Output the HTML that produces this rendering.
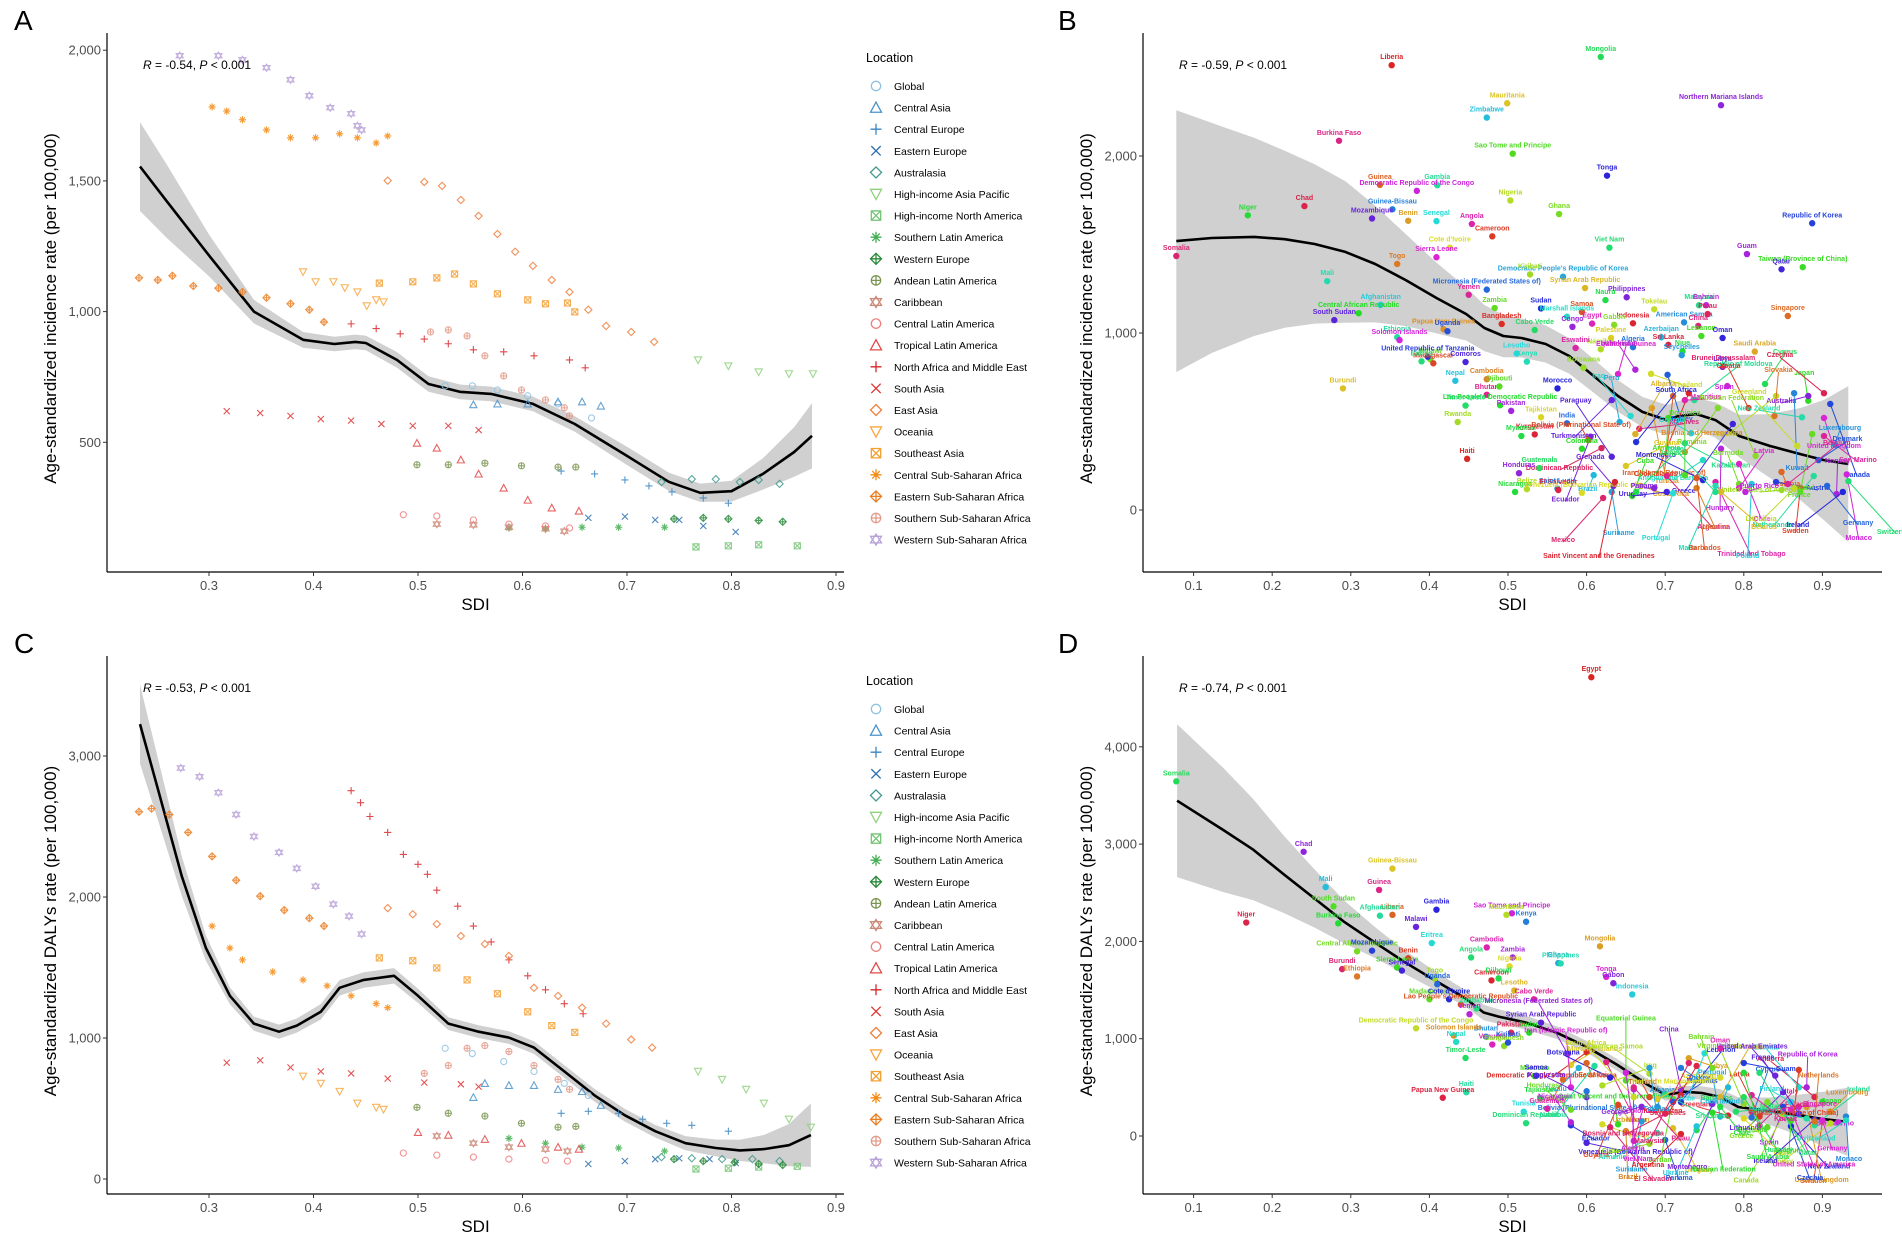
<!DOCTYPE html>
<html><head><meta charset="utf-8"><style>
html,body{margin:0;padding:0;background:#fff;}
svg{display:block;font-family:"Liberation Sans",Arial,sans-serif;}
</style></head><body>
<svg id="fig" width="1902" height="1255" viewBox="0 0 1902 1255" xmlns="http://www.w3.org/2000/svg"></svg>
<script>
// ---------- Region data (panels A & C) ----------
const regionNames = ["Global","Central Asia","Central Europe","Eastern Europe","Australasia","High-income Asia Pacific","High-income North America","Southern Latin America","Western Europe","Andean Latin America","Caribbean","Central Latin America","Tropical Latin America","North Africa and Middle East","South Asia","East Asia","Oceania","Southeast Asia","Central Sub-Saharan Africa","Eastern Sub-Saharan Africa","Southern Sub-Saharan Africa","Western Sub-Saharan Africa"];
const regionColors = ["#8fc1e3","#4b93c9","#3a86c2","#2a6fb0","#3f9a8c","#8fd17a","#74c476","#3fae4f","#2a8a3a","#7a9550","#cc8a78","#ef7f7f","#e24848","#d8282a","#e03434","#ef7d3a","#f8a640","#f5a032","#f58a12","#ec7e22","#e39a88","#b9a2d8"];
const regionShapes = ["circle","tri","plus","cross","diamond","dtri","sqx","ast","diaplus","cirplus","hex","circle","tri","plus","cross","diamond","dtri","sqx","ast","diaplus","cirplus","hex"];

const aSdi = [
 [0.526,0.552,0.576,0.605,0.634,0.666],
 [0.553,0.576,0.605,0.634,0.657,0.675],
 [0.637,0.669,0.698,0.721,0.743,0.773,0.797],
 [0.663,0.698,0.727,0.750,0.773,0.804],
 [0.733,0.762,0.785,0.808,0.826,0.846],
 [0.768,0.797,0.826,0.855,0.878],
 [0.766,0.797,0.826,0.863],
 [0.587,0.622,0.657,0.692,0.736],
 [0.745,0.773,0.797,0.826,0.849],
 [0.499,0.529,0.564,0.599,0.634,0.651],
 [0.518,0.553,0.587,0.622,0.640],
 [0.486,0.518,0.553,0.587,0.622,0.645],
 [0.499,0.518,0.541,0.558,0.582,0.605,0.628,0.654],
 [0.436,0.460,0.483,0.506,0.529,0.553,0.582,0.611,0.645,0.660],
 [0.317,0.349,0.378,0.407,0.436,0.465,0.495,0.529,0.558],
 [0.471,0.506,0.523,0.541,0.558,0.576,0.593,0.610,0.628,0.645,0.663,0.680,0.704,0.726],
 [0.390,0.402,0.419,0.430,0.442,0.451,0.460,0.467],
 [0.463,0.495,0.518,0.535,0.553,0.576,0.605,0.622,0.643,0.650],
 [0.303,0.317,0.332,0.355,0.378,0.402,0.425,0.442,0.460,0.471],
 [0.233,0.251,0.265,0.285,0.309,0.332,0.355,0.378,0.396,0.410],
 [0.512,0.529,0.547,0.564,0.582,0.599,0.622,0.640,0.645],
 [0.272,0.309,0.332,0.355,0.378,0.396,0.416,0.436,0.442,0.446]
];
const aVal = [
 [716,716,700,678,647,593],
 [644,647,647,655,655,639],
 [390,379,356,333,310,287,267],
 [211,216,203,203,180,157],
 [348,359,359,348,356,341],
 [815,792,769,762,762],
 [100,104,108,104],
 [172,169,175,175,175],
 [207,211,207,201,196],
 [414,414,420,410,405,405],
 [187,184,175,169,160],
 [223,218,203,187,180,172],
 [497,478,433,379,325,279,249,237],
 [953,935,915,895,877,854,846,831,815,785],
 [619,612,601,589,583,570,563,563,547],
 [1501,1496,1481,1427,1366,1297,1229,1175,1121,1075,1007,945,922,884],
 [1152,1114,1114,1091,1075,1022,1045,1037],
 [1109,1114,1129,1144,1106,1068,1045,1030,1033,999],
 [1783,1767,1734,1695,1665,1665,1680,1665,1645,1672],
 [1129,1121,1137,1098,1090,1075,1053,1030,1007,960],
 [922,930,907,831,754,700,662,632,601],
 [1979,1979,1963,1933,1887,1826,1780,1757,1711,1695]
];
const aFitSdi = [0.234,0.26,0.30,0.343,0.39,0.42,0.44,0.45,0.48,0.51,0.54,0.57,0.61,0.65,0.70,0.74,0.77,0.80,0.83,0.86,0.877];
const aFitVal = [1555,1420,1215,1000,892,876,884,880,815,723,693,685,647,570,448,349,307,313,379,463,525];
const aFitSe  = [170,140,80,45,30,28,28,28,30,30,28,28,28,30,35,35,35,40,60,95,125];

const cSdi = [
 [0.526,0.552,0.582,0.611,0.640,0.663],
 [0.553,0.564,0.587,0.611,0.634,0.657,0.675],
 [0.637,0.663,0.692,0.715,0.738,0.762,0.797],
 [0.663,0.698,0.727,0.750,0.779,0.804],
 [0.733,0.762,0.791,0.820,0.846],
 [0.768,0.791,0.814,0.831,0.855,0.876],
 [0.766,0.797,0.826,0.863],
 [0.587,0.622,0.657,0.692,0.736],
 [0.745,0.773,0.803,0.826,0.849],
 [0.499,0.529,0.564,0.599,0.634,0.651],
 [0.518,0.553,0.587,0.622,0.643],
 [0.486,0.518,0.553,0.587,0.622,0.643],
 [0.500,0.529,0.564,0.599,0.634,0.654],
 [0.436,0.445,0.454,0.471,0.486,0.500,0.509,0.518,0.538,0.553,0.570,0.587,0.605,0.622,0.640,0.658],
 [0.317,0.349,0.378,0.407,0.436,0.471,0.506,0.541,0.558],
 [0.471,0.495,0.518,0.541,0.564,0.587,0.611,0.634,0.657,0.680,0.704,0.724],
 [0.390,0.407,0.425,0.442,0.460,0.467],
 [0.463,0.495,0.518,0.547,0.576,0.605,0.628,0.650],
 [0.303,0.320,0.332,0.361,0.390,0.413,0.436,0.460,0.471],
 [0.233,0.245,0.262,0.280,0.303,0.326,0.349,0.372,0.396,0.410],
 [0.506,0.529,0.547,0.564,0.587,0.611,0.634,0.645],
 [0.273,0.291,0.309,0.326,0.343,0.367,0.384,0.402,0.419,0.434,0.446]
];
const cVal = [
 [927,890,833,763,678,593],
 [579,678,664,664,636,621,523],
 [466,480,466,424,395,381,339],
 [107,127,141,147,141,113],
 [155,147,141,141,127],
 [763,706,636,537,424,367],
 [71,76,85,90],
 [288,254,226,220,198],
 [141,127,119,107,99],
 [508,466,446,395,367,373],
 [305,254,226,212,198],
 [184,169,155,141,133,127],
 [331,311,282,254,226,212],
 [2754,2669,2571,2458,2302,2232,2161,2048,1935,1794,1681,1554,1441,1342,1243,1172],
 [825,842,791,763,749,712,684,672,655],
 [1921,1878,1808,1723,1667,1582,1356,1299,1215,1102,989,932],
 [729,678,621,537,508,494],
 [1568,1548,1497,1412,1314,1186,1088,1040],
 [1794,1638,1554,1469,1412,1370,1299,1243,1215],
 [2605,2627,2585,2458,2288,2119,2006,1907,1850,1794],
 [749,805,927,946,904,805,706,636],
 [2915,2853,2740,2585,2429,2316,2203,2076,1949,1864,1737]
];
const cFitSdi = [0.234,0.251,0.274,0.297,0.320,0.343,0.367,0.384,0.407,0.425,0.448,0.477,0.500,0.529,0.558,0.587,0.611,0.640,0.669,0.698,0.727,0.756,0.785,0.808,0.831,0.855,0.876];
const cFitVal = [3226,2768,2147,1638,1299,1102,1045,1088,1186,1356,1412,1441,1299,1102,1045,1003,932,763,593,452,339,254,220,203,212,240,311];
const cFitSe  = [280,220,140,90,60,50,50,50,55,55,55,55,50,45,45,45,45,45,45,45,45,50,60,75,100,150,225];

// ---------- Country data (panel B) ----------
const bNames = ["Liberia","Mongolia","Northern Mariana Islands","Mauritania","Zimbabwe","Burkina Faso","Sao Tome and Principe","Tonga","Guinea","Gambia","Democratic Republic of the Congo","Nigeria","Guinea-Bissau","Chad","Niger","Mozambique","Benin","Senegal","Angola","Ghana","Republic of Korea","Cameroon","Viet Nam","Guam","Cote d'Ivoire","Democratic People's Republic of Korea","Somalia","Taiwan (Province of China)","Qatar","Togo","Mali","Sierra Leone","Kiribati","Micronesia (Federated States of)","Indonesia","Nauru","Philippines","Syrian Arab Republic","Afghanistan","Yemen","Zambia","Sudan","Samoa","Malaysia","Bahrain","Tokelau","American Samoa","Palau","Central African Republic","South Sudan","Papua New Guinea","Marshall Islands","Egypt","Gabon","Uganda","Bangladesh","Cabo Verde","Congo","Palestine","Azerbaijan","China","Lebanon","Oman","Singapore","Ethiopia","Solomon Islands","Namibia","Algeria","Sri Lanka","Niue","Libya","Saudi Arabia","Lesotho","Eswatini","Malawi","United Republic of Tanzania","Madagascar","Eritrea","Uzbekistan","Thailand","Seychelles","Brunei Darussalam","Japan","Comoros","Cambodia","Kenya","Equatorial Guinea","Botswana","Turkey","Cook Islands","Cyprus","Australia","Burundi","Nepal","Bhutan","Djibouti","Morocco","Iran (Islamic Republic of)","Republic of Moldova","Spain","Serbia","Kuwait","Czechia","Lao People's Democratic Republic","Turkmenistan","Tunisia","Iraq","Mauritius","Romania","Canada","Croatia","Timor-Leste","Pakistan","Tajikistan","Peru","Maldives","Armenia","Greece","Slovakia","New Zealand","United Kingdom","Rwanda","India","Kyrgyzstan","Myanmar","Ecuador","Albania","Georgia","San Marino","France","South Africa","Bolivia (Plurinational State of)","Kazakhstan","Hungary","Greenland","Luxembourg","Dominican Republic","Colombia","Paraguay","Bosnia and Herzegovina","Antigua and Barbuda","Chile","Russian Federation","Denmark","Haiti","Guatemala","Honduras","Guyana","Brazil","Argentina","Dominica","Montenegro","Estonia","Netherlands","Monaco","Belize","Saint Lucia","El Salvador","Nicaragua","Grenada","Costa Rica","Portugal","Trinidad and Tobago","Bermuda","Austria","Sweden","Switzerland","Norway","Venezuela (Bolivarian Republic of)","Suriname","Mexico","Cuba","Uruguay","Ukraine","Malta","Latvia","United States of America","Germany","Saint Vincent and the Grenadines","Jamaica","Panama","Belarus","Poland","Belgium","Iceland","Ireland","Barbados","Israel","Puerto Rico","Lithuania"];
const bSdi = [0.352,0.618,0.771,0.499,0.473,0.285,0.506,0.626,0.337,0.410,0.384,0.503,0.353,0.241,0.169,0.327,0.373,0.409,0.454,0.565,0.887,0.480,0.629,0.804,0.426,0.570,0.078,0.875,0.848,0.359,0.270,0.409,0.528,0.473,0.659,0.624,0.651,0.598,0.338,0.450,0.483,0.542,0.594,0.743,0.752,0.686,0.724,0.754,0.310,0.279,0.418,0.575,0.607,0.635,0.423,0.492,0.534,0.582,0.631,0.695,0.742,0.746,0.773,0.856,0.359,0.362,0.618,0.659,0.704,0.722,0.773,0.814,0.511,0.586,0.401,0.398,0.405,0.390,0.662,0.682,0.721,0.774,0.882,0.446,0.473,0.524,0.640,0.596,0.703,0.730,0.827,0.882,0.290,0.433,0.473,0.489,0.563,0.710,0.737,0.779,0.841,0.864,0.902,0.490,0.632,0.683,0.656,0.725,0.767,0.910,0.806,0.446,0.504,0.542,0.642,0.667,0.704,0.786,0.839,0.874,0.902,0.436,0.575,0.534,0.517,0.605,0.662,0.733,0.902,0.887,0.663,0.602,0.725,0.771,0.868,0.916,0.619,0.594,0.632,0.725,0.748,0.794,0.815,0.895,0.448,0.540,0.514,0.650,0.609,0.702,0.725,0.748,0.848,0.889,0.931,0.524,0.563,0.564,0.509,0.634,0.669,0.710,0.764,0.794,0.841,0.872,0.933,0.918,0.594,0.632,0.621,0.658,0.702,0.740,0.764,0.794,0.848,0.906,0.636,0.663,0.686,0.771,0.810,0.856,0.872,0.926,0.740,0.764,0.802,0.864];
const bVal = [2513,2560,2287,2298,2217,2086,2013,1889,1837,1835,1803,1749,1699,1717,1665,1647,1634,1632,1616,1672,1620,1546,1482,1446,1482,1318,1435,1372,1360,1390,1293,1428,1331,1245,1055,1186,1202,1254,1159,1216,1141,1139,1119,1157,1157,1134,1060,1107,1112,1073,1021,1092,1053,1046,1010,1051,1017,1035,972,976,1040,983,972,1096,976,960,908,920,933,897,809,895,884,915,852,866,829,840,793,769,875,814,617,836,739,838,768,804,764,660,712,644,687,730,651,698,687,644,621,700,644,660,660,592,621,576,531,621,576,599,576,590,560,524,497,459,520,486,531,524,520,497,490,427,418,414,429,434,418,429,384,395,377,346,362,368,350,346,301,328,282,260,305,282,289,237,208,249,197,192,197,169,215,192,201,118,120,113,102,136,136,95,158,147,158,124,163,90,97,102,68,79,102,124,136,124,113,136,158,102,124,102,147,147,102,102,181,102,102,124];
const bFitSdi = [0.078,0.123,0.177,0.216,0.254,0.293,0.331,0.370,0.409,0.447,0.470,0.494,0.517,0.548,0.578,0.609,0.640,0.671,0.702,0.717,0.740,0.764,0.794,0.833,0.872,0.902,0.933];
const bFitVal = [1519,1537,1543,1530,1503,1458,1390,1299,1198,1107,1028,983,972,938,870,757,644,554,508,531,542,508,418,362,316,282,260];
const bFitSe  = [740,650,560,500,450,400,330,260,200,150,130,120,110,105,100,95,90,85,85,85,90,100,120,180,260,340,440];

// ---------- Country data (panel D) ----------
const dNames = ["Egypt","Somalia","Chad","Guinea-Bissau","Mali","Guinea","South Sudan","Gambia","Liberia","Afghanistan","Sao Tome and Principe","Mauritania","Kenya","Niger","Burkina Faso","Malawi","Mongolia","Eritrea","Cambodia","Central African Republic","Mozambique","Benin","Angola","Zambia","Nigeria","Ghana","Burundi","Sierra Leone","Senegal","Ethiopia","Philippines","Tonga","Togo","Uganda","Cameroon","Djibouti","Gabon","Lesotho","Indonesia","Cabo Verde","Madagascar","Cote d'Ivoire","Lao People's Democratic Republic","Zimbabwe","Yemen","Democratic Republic of the Congo","Bhutan","Pakistan","Sudan","Syrian Arab Republic","Solomon Islands","Nepal","Vanuatu","Bangladesh","Kiribati","Democratic People's Republic of Korea","Timor-Leste","Micronesia (Federated States of)","Marshall Islands","Tuvalu","Nauru","Morocco","Samoa","Myanmar","Haiti","Iran (Islamic Republic of)","Iraq","Bolivia (Plurinational State of)","Papua New Guinea","Tajikistan","Kyrgyzstan","Uzbekistan","Tunisia","Guatemala","Honduras","Ecuador","Guyana","Dominican Republic","Nicaragua","Belize","Suriname","El Salvador","Saint Vincent and the Grenadines","Venezuela (Bolivarian Republic of)","Brazil","Armenia","Colombia","Cuba","Panama","Argentina","Barbados","Georgia","Uruguay","Ukraine","Italy","Bermuda","New Zealand","Sweden","Ireland","San Marino","Norway","Monaco","Andorra","Japan","Lithuania","United Kingdom","Estonia","Singapore","Greece","Czechia","Latvia","Malta","Spain","Israel","Portugal","Poland","Belgium","Iceland","Netherlands","Denmark","Germany","Canada","Cyprus","Greenland","Chile","Montenegro","Romania","Finland","Kuwait","Jordan","Lebanon","Thailand","Sri Lanka","Algeria","South Africa","Albania","Bosnia and Herzegovina","Russian Federation","France","Luxembourg","Switzerland","United States of America","Virgin Islands","Mauritius","Kazakhstan","Hungary","China","Azerbaijan","Cook Islands","Palau","Equatorial Guinea","Botswana","Eswatini","Namibia","Viet Nam","American Samoa","Turkey","Seychelles","Saudi Arabia","United Arab Emirates","Libya","Niue","Oman","Bahrain","Guam","Taiwan (Province of China)","Qatar","Republic of Korea","Northern Mariana Islands","Tokelau","Malaysia"];
const dSdi = [0.606,0.078,0.240,0.353,0.268,0.336,0.278,0.409,0.353,0.337,0.505,0.498,0.523,0.167,0.284,0.383,0.617,0.403,0.473,0.308,0.327,0.373,0.453,0.506,0.502,0.564,0.289,0.359,0.365,0.308,0.567,0.625,0.407,0.410,0.479,0.488,0.634,0.508,0.658,0.533,0.400,0.425,0.440,0.460,0.451,0.383,0.472,0.504,0.527,0.542,0.431,0.434,0.480,0.495,0.500,0.600,0.446,0.576,0.580,0.590,0.625,0.534,0.536,0.570,0.447,0.580,0.620,0.600,0.417,0.541,0.600,0.640,0.520,0.550,0.580,0.580,0.640,0.523,0.580,0.620,0.670,0.630,0.640,0.600,0.650,0.690,0.660,0.680,0.700,0.720,0.740,0.670,0.710,0.740,0.820,0.830,0.860,0.900,0.890,0.920,0.910,0.930,0.890,0.900,0.850,0.880,0.870,0.870,0.830,0.850,0.820,0.790,0.850,0.800,0.770,0.810,0.860,0.890,0.890,0.880,0.900,0.850,0.810,0.780,0.770,0.760,0.770,0.860,0.810,0.710,0.720,0.680,0.700,0.660,0.660,0.690,0.700,0.760,0.870,0.910,0.930,0.860,0.800,0.710,0.720,0.800,0.720,0.690,0.780,0.660,0.650,0.630,0.600,0.610,0.650,0.680,0.720,0.740,0.800,0.840,0.730,0.750,0.770,0.760,0.800,0.870,0.820,0.880,0.770,0.680,0.730];
const dVal = [4715,3645,2921,2748,2558,2529,2360,2326,2273,2264,2289,2273,2202,2194,2186,2149,1950,1983,1938,1897,1905,1826,1835,1835,1744,1777,1715,1731,1700,1640,1773,1636,1620,1560,1599,1620,1570,1496,1455,1405,1405,1405,1350,1310,1252,1107,1021,1062,1062,1165,1033,967,940,925,960,860,802,843,730,700,760,616,620,580,450,500,520,460,393,388,400,320,250,280,270,110,320,132,140,120,150,90,120,-70,50,30,-50,-80,-40,20,60,300,80,100,110,90,100,150,110,140,130,200,400,350,450,300,500,300,350,300,200,250,260,180,200,250,160,170,150,180,160,210,190,210,300,330,400,350,420,380,350,400,430,480,400,300,230,240,230,250,160,270,330,350,420,400,480,380,500,500,570,600,750,720,650,640,700,720,650,620,800,850,900,700,750,680,650,500,600,700,750];
const dFitSdi = [0.079,0.137,0.176,0.214,0.253,0.292,0.330,0.369,0.407,0.446,0.469,0.488,0.523,0.562,0.600,0.639,0.678,0.701,0.724,0.747,0.770,0.793,0.832,0.871,0.901,0.932];
const dFitVal = [3446,3149,2942,2694,2446,2198,1992,1785,1599,1413,1269,1227,1165,1062,917,731,525,421,455,442,401,298,256,215,174,145];
const dFitSe  = [785,640,520,400,300,220,160,120,95,85,80,75,70,65,60,60,60,60,60,70,80,100,140,210,280,350];

// ---------- Rendering ----------
const NS = "http://www.w3.org/2000/svg";
const svg = document.getElementById("fig");
function el(tag, attrs, parent, text){
  const e = document.createElementNS(NS, tag);
  for (const k in attrs) e.setAttribute(k, attrs[k]);
  if (text !== undefined) e.textContent = text;
  (parent || svg).appendChild(e);
  return e;
}
function fmt(v){ return v.toLocaleString("en-US"); }

function shapePath(shape, x, y, s){
  const t = s*0.85;
  switch(shape){
    case "tri": return `M${x},${y-s}L${x+s},${y+t}L${x-s},${y+t}Z`;
    case "dtri": return `M${x},${y+s}L${x+s},${y-t}L${x-s},${y-t}Z`;
    case "plus": return `M${x-s},${y}H${x+s}M${x},${y-s}V${y+s}`;
    case "cross": return `M${x-t},${y-t}L${x+t},${y+t}M${x+t},${y-t}L${x-t},${y+t}`;
    case "diamond": return `M${x},${y-s}L${x+s},${y}L${x},${y+s}L${x-s},${y}Z`;
    case "sqx": return `M${x-t},${y-t}H${x+t}V${y+t}H${x-t}ZM${x-t},${y-t}L${x+t},${y+t}M${x+t},${y-t}L${x-t},${y+t}`;
    case "ast": return `M${x-s},${y}H${x+s}M${x},${y-s}V${y+s}M${x-t*0.8},${y-t*0.8}L${x+t*0.8},${y+t*0.8}M${x+t*0.8},${y-t*0.8}L${x-t*0.8},${y+t*0.8}`;
    case "diaplus": return `M${x},${y-s}L${x+s},${y}L${x},${y+s}L${x-s},${y}ZM${x-s},${y}H${x+s}M${x},${y-s}V${y+s}`;
    case "cirplus": return `M${x-t},${y}a${t},${t} 0 1,0 ${2*t},0a${t},${t} 0 1,0 ${-2*t},0M${x-t},${y}H${x+t}M${x},${y-t}V${y+t}`;
    case "hex": return `M${x},${y-s}L${x+s},${y+s*0.6}L${x-s},${y+s*0.6}ZM${x},${y+s}L${x+s},${y-s*0.6}L${x-s},${y-s*0.6}Z`;
    default: return `M${x-t},${y}a${t},${t} 0 1,0 ${2*t},0a${t},${t} 0 1,0 ${-2*t},0`;
  }
}

function makeAxes(p){
  const g = el("g", {});
  
  
  el("line",{x1:p.left,y1:p.top,x2:p.left,y2:p.bottom,stroke:"#000","stroke-width":1.2},g);
  el("line",{x1:p.left,y1:p.bottom,x2:p.right,y2:p.bottom,stroke:"#000","stroke-width":1.2},g);
  p.xticks.forEach(t=>{
    const x = p.sx(t);
    el("line",{x1:x,y1:p.bottom,x2:x,y2:p.bottom+4,stroke:"#333","stroke-width":1},g);
    const tl = el("text",{x:x,y:p.bottom+18,"text-anchor":"middle","font-size":13,fill:"#4d4d4d"},g,t.toFixed(1));
    
    
  });
  p.yticks.forEach(t=>{
    const y = p.sy(t);
    el("line",{x1:p.left-4,y1:y,x2:p.left,y2:y,stroke:"#333","stroke-width":1},g);
    const tl = el("text",{x:p.left-6,y:y+4.5,"text-anchor":"end","font-size":13,fill:"#4d4d4d"},g,fmt(t));
    
    
  });
  const xt = el("text",{x:(p.left+p.right)/2,y:p.bottom+38,"text-anchor":"middle","font-size":17,fill:"#000"},g,"SDI");
  
  
  const yt = el("text",{x:0,y:0,"text-anchor":"middle","font-size":17,fill:"#000",transform:`translate(${p.left-51},${(p.top+p.bottom)/2+6}) rotate(-90)`},g,p.ytitle);
  
  
  const lab = el("text",{x:p.labelX,y:p.top-3,"font-size":28,fill:"#000"},g,p.letter);
  
  
  const r = el("text",{x:p.left+36,y:p.top+36,"font-size":12,fill:"#000"},g);
  
  
  el("tspan",{"font-style":"italic"},r,"R");
  el("tspan",{},r," = "+p.r+", ");
  el("tspan",{"font-style":"italic"},r,"P");
  el("tspan",{},r," < 0.001");
}

function drawFit(p, xs, ys, se){
  const g = el("g",{});
  
  
  let up = "", lo = "";
  xs.forEach((s,i)=>{
    up += (i?"L":"M") + p.sx(s).toFixed(1) + "," + p.sy(ys[i]+se[i]).toFixed(1);
  });
  for (let i=xs.length-1;i>=0;i--) lo += "L" + p.sx(xs[i]).toFixed(1) + "," + p.sy(ys[i]-se[i]).toFixed(1);
  const band = el("path",{d:up+lo+"Z",fill:"#c8c8c8","fill-opacity":0.85,stroke:"none"},g);
  
  
  let d = "";
  xs.forEach((s,i)=>{ d += (i?"L":"M") + p.sx(s).toFixed(1) + "," + p.sy(ys[i]).toFixed(1); });
  const line = el("path",{d:d,fill:"none",stroke:"#000","stroke-width":2.6,"stroke-linejoin":"round"},g);
  
  
}

function drawRegions(p, sdis, vals){
  sdis.forEach((arr,ri)=>{
    const g = el("g",{});
    
    
    arr.forEach((s,i)=>{
      const m = el("path",{d:shapePath(regionShapes[ri], p.sx(s), p.sy(vals[ri][i]), 3.6),fill:"none",stroke:regionColors[ri],"stroke-width":1.1,"stroke-opacity":0.85},g);
      
      
    });
  });
}

function drawLegend(x, y){
  const g = el("g",{});
  
  
  el("text",{x:x,y:y,"font-size":12.5,fill:"#000"},g,"Location");
  regionNames.forEach((n,i)=>{
    const yy = y + 24 + i*21.6;
    const e = el("g",{},g);
    
    
    el("path",{d:shapePath(regionShapes[i], x+10, yy, 5.5),fill:"none",stroke:regionColors[i],"stroke-width":1.3},e);
    el("text",{x:x+28,y:yy+4,"font-size":10.5,fill:"#000"},e,n);
  });
}

function countryColor(i){ return `hsl(${(i*137.508)%360},72%,50%)`; }

function drawCountries(p, names, sdis, vals, crowd){
  const g = el("g",{});
  
  
  names.forEach((n,i)=>{
    const x = p.sx(sdis[i]), y = p.sy(vals[i]);
    const c = countryColor(i);
    let lx = x, ly = y - 6;
    if (crowd(sdis[i], vals[i])){
      lx = x + ((i*53)%100) - 50;
      ly = y + ((i*37)%150) - 60;
      if (ly > p.bottom - 10) ly = p.bottom - 10 - ((i*13)%30);
      if (ly < p.top + 10) ly = p.top + 10;
      const ln = el("line",{x1:x,y1:y,x2:lx,y2:ly,stroke:c,"stroke-width":1},g);
      
      
    }
    const dot = el("circle",{cx:x,cy:y,r:3.2,fill:c},g);
    
    
    const t = el("text",{x:lx,y:ly,"text-anchor":"middle","font-size":7,"font-weight":"bold",fill:c},g,n);
    
    
  });
}

// Panel definitions
const PA = {id:"panel-a",letter:"A",r:"-0.54",left:107,right:844,top:33,bottom:572,labelX:14,
  sx:s=>209+(s-0.3)*1045, sy:v=>311.6-(v-1000)*0.2614,
  xticks:[0.3,0.4,0.5,0.6,0.7,0.8,0.9], yticks:[500,1000,1500,2000],
  ytitle:"Age-standardized incidence rate (per 100,000)"};
const PC = {id:"panel-c",letter:"C",r:"-0.53",left:107,right:844,top:656,bottom:1194,labelX:14,
  sx:s=>209+(s-0.3)*1045, sy:v=>1179-v*0.141,
  xticks:[0.3,0.4,0.5,0.6,0.7,0.8,0.9], yticks:[0,1000,2000,3000],
  ytitle:"Age-standardized DALYs rate (per 100,000)"};
const PB = {id:"panel-b",letter:"B",r:"-0.59",left:1143,right:1882,top:33,bottom:572,labelX:1058,
  sx:s=>1193.6+(s-0.1)*786, sy:v=>510-v*0.177,
  xticks:[0.1,0.2,0.3,0.4,0.5,0.6,0.7,0.8,0.9], yticks:[0,1000,2000],
  ytitle:"Age-standardized incidence rate (per 100,000)"};
const PD = {id:"panel-d",letter:"D",r:"-0.74",left:1143,right:1882,top:656,bottom:1194,labelX:1058,
  sx:s=>1193.6+(s-0.1)*786, sy:v=>1136-v*0.0973,
  xticks:[0.1,0.2,0.3,0.4,0.5,0.6,0.7,0.8,0.9], yticks:[0,1000,2000,3000,4000],
  ytitle:"Age-standardized DALYs rate (per 100,000)"};

// Panel A
drawFit(PA, aFitSdi, aFitVal, aFitSe);
drawRegions(PA, aSdi, aVal);
makeAxes(PA);
drawLegend(866, 62);
// Panel C
drawFit(PC, cFitSdi, cFitVal, cFitSe);
drawRegions(PC, cSdi, cVal);
makeAxes(PC);
drawLegend(866, 685);
// Panel B
drawFit(PB, bFitSdi, bFitVal, bFitSe);
drawCountries(PB, bNames, bSdi, bVal, (s,v)=> s>0.6 && v<800);
makeAxes(PB);
// Panel D
drawFit(PD, dFitSdi, dFitVal, dFitSe);
drawCountries(PD, dNames, dSdi, dVal, (s,v)=> s>0.55 && v<900);
makeAxes(PD);
</script>
</body></html>
